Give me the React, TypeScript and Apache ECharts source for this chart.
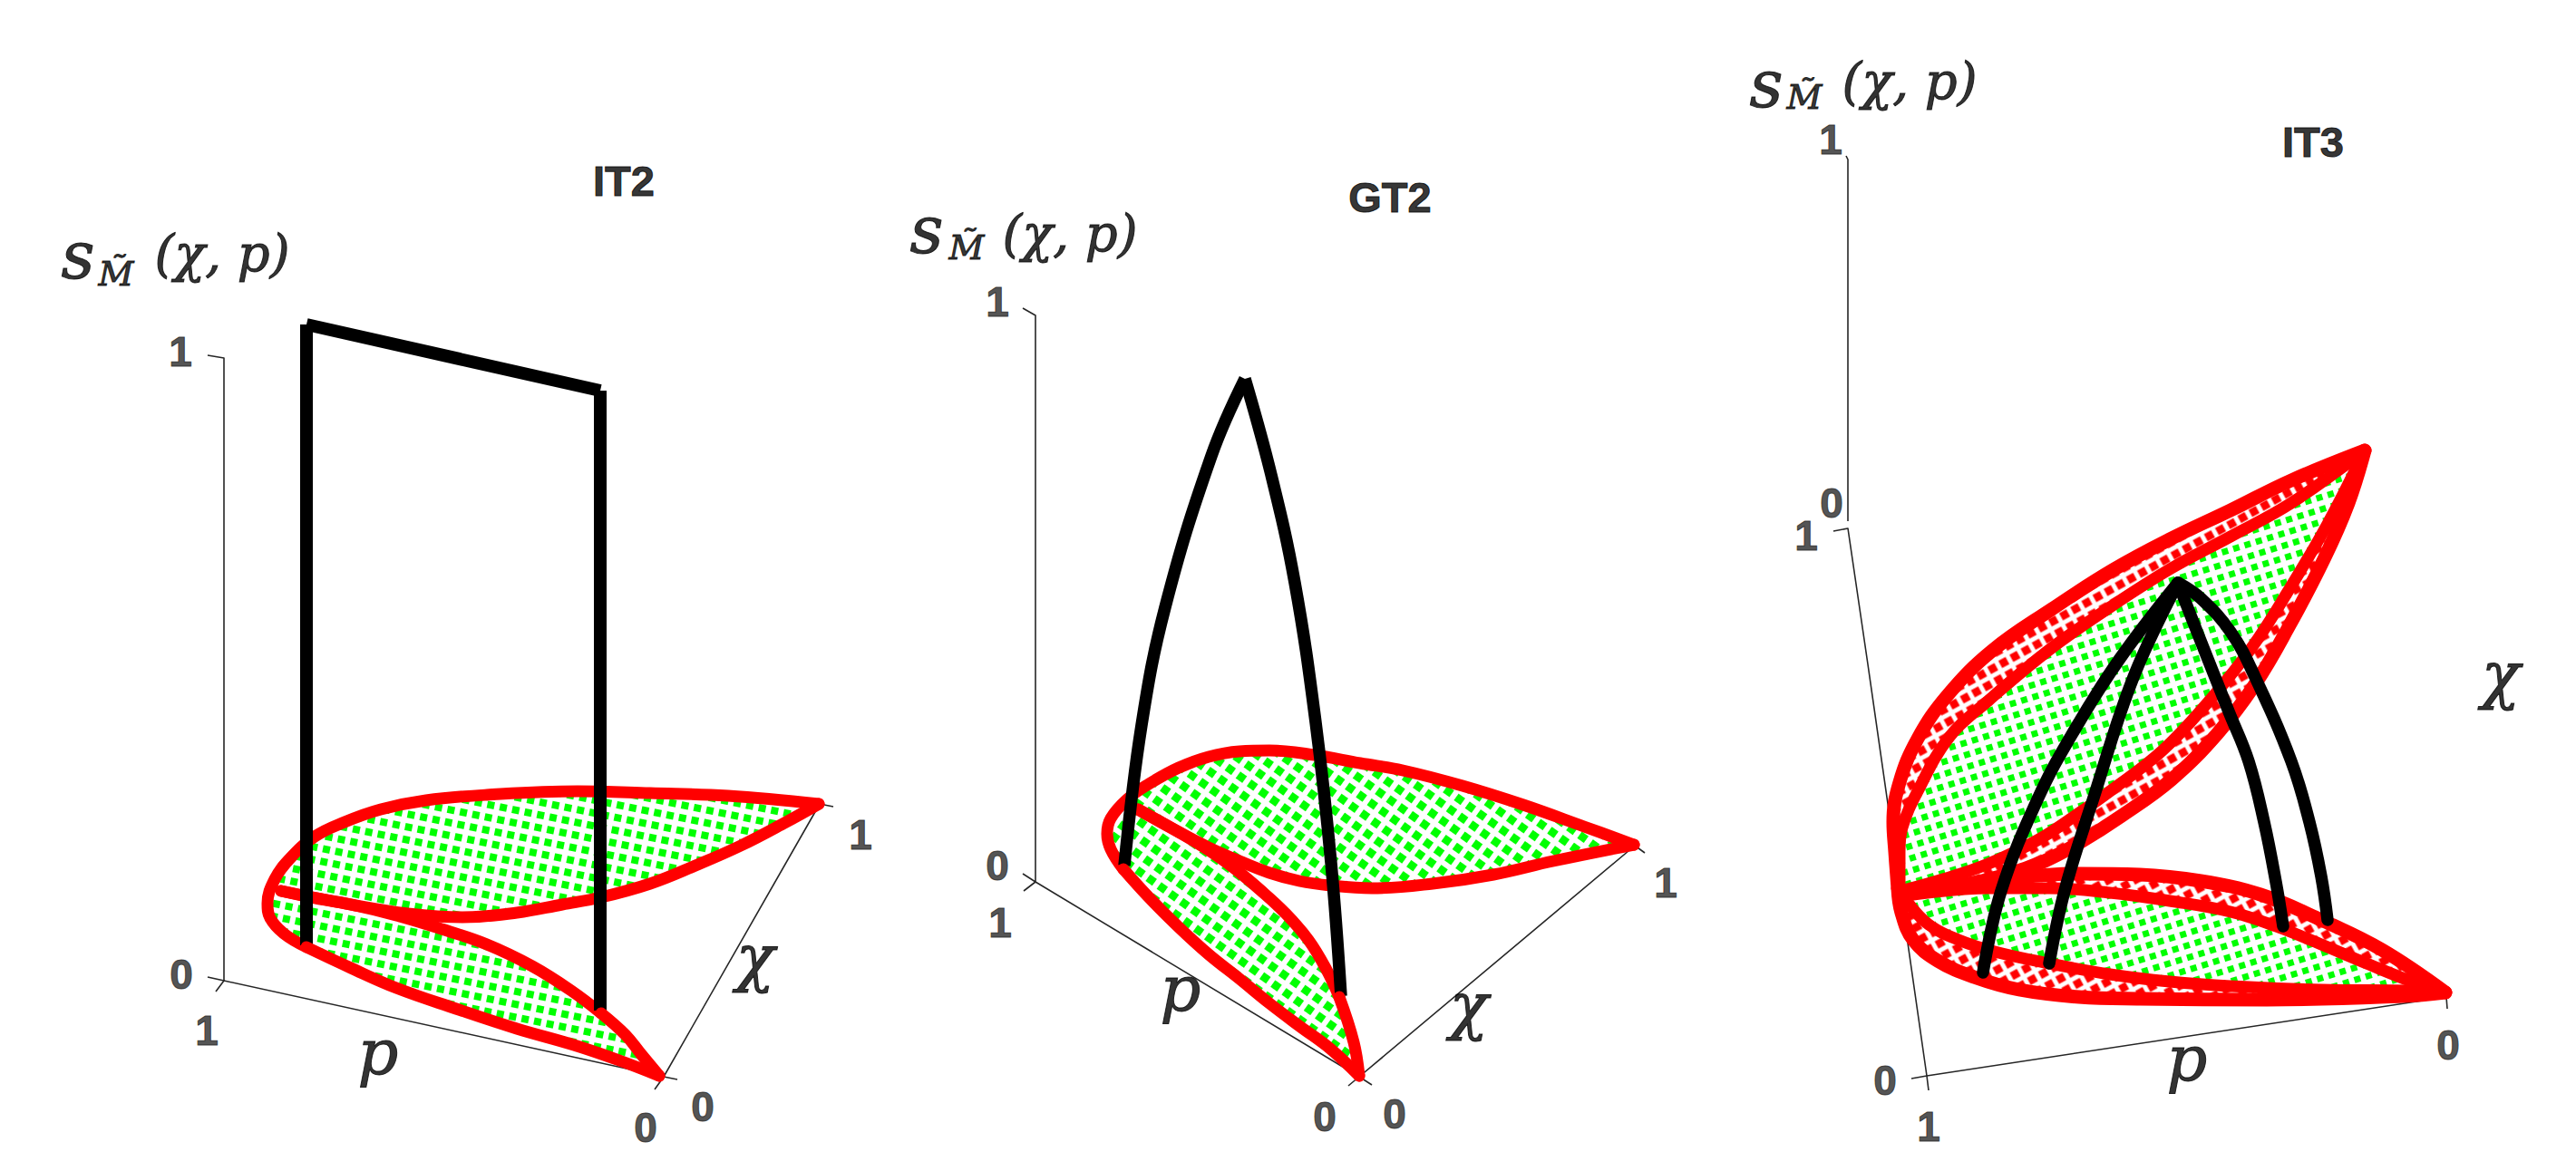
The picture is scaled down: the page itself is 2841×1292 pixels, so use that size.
import React, { useEffect, useRef } from "react";
import * as echarts from "echarts";

type Pt = number[];

// ---- IT2 panel
const it2TopEdge: Pt[] = [[903,887],[803,878],[717,875],[637,873],[537,877],[470,883],[420,893],[380,907],[347,923],[320,947],[303,970],[295,997],[298,1013],[313,1030],[338,1045]];
const it2OuterFoot: Pt[] = [[338,1045],[387,1068],[437,1090],[503,1113],[570,1135],[633,1153],[683,1170],[727,1187]];
const it2InnerFoot: Pt[] = [[663,1118],[690,1142],[707,1163],[727,1187]];
const it2InnerEdge: Pt[] = [[663,1118],[630,1093],[587,1066],[537,1042],[487,1025],[437,1010],[387,998],[343,990],[310,983]];
const it2BottomEdge: Pt[] = [[310,983],[387,998],[450,1008],[510,1012],[570,1007],[620,998],[663,990],[717,975],[767,955],[817,933],[867,907],[903,887]];
const it2Frame: Pt[] = [[338,1043],[338,358]];
const it2FrameTop: Pt[] = [[338,358],[662,431]];
const it2FrameRight: Pt[] = [[662,431],[662,1115]];
const it2AxisS: Pt[] = [[229,392],[247,395],[247,1082],[229,1078]];
const it2AxisP: Pt[] = [[238,1094],[247,1082],[732,1188],[747,1191]];
const it2AxisChi: Pt[] = [[722,1202],[732,1188],[904,887],[919,890]];
const it2Ticks: (number | string)[][] = [[199,388,"1"],[200,1075,"0"],[228,1137,"1"],[712,1244,"0"],[775,1221,"0"],[949,921,"1"]];

// ---- GT2 panel
const gt2TopEdge: Pt[] = [[1802,932],[1747,912],[1680,888],[1613,867],[1547,850],[1500,842],[1450,833],[1400,828],[1367,829],[1333,835],[1300,847],[1267,865],[1243,882],[1225,903],[1221,920],[1225,937],[1239,959]];
const gt2OuterFoot: Pt[] = [[1239,959],[1267,990],[1300,1023],[1333,1053],[1367,1080],[1400,1107],[1433,1132],[1467,1157],[1499,1187]];
const gt2InnerFoot: Pt[] = [[1477,1100],[1493,1150],[1499,1187]];
const gt2InnerEdge: Pt[] = [[1477,1100],[1463,1070],[1443,1037],[1417,1007],[1390,982],[1360,957],[1333,938],[1300,918],[1255,893]];
const gt2BottomEdge: Pt[] = [[1255,893],[1300,918],[1333,935],[1367,950],[1400,963],[1433,972],[1467,977],[1513,980],[1580,975],[1647,965],[1713,950],[1802,932]];
const gt2ArcLeft: Pt[] = [[1240,955],[1259,800],[1285,670],[1336,503],[1373,418]];
const gt2ArcRight: Pt[] = [[1373,418],[1402,524],[1428,643],[1451,797],[1468,952],[1479,1099]];
const gt2AxisS: Pt[] = [[1128,340],[1142,348],[1142,973],[1128,964]];
const gt2AxisP: Pt[] = [[1129,983],[1142,973],[1499,1188],[1513,1197]];
const gt2AxisChi: Pt[] = [[1487,1198],[1499,1188],[1803,933],[1814,941]];
const gt2Ticks: (number | string)[][] = [[1100,333,"1"],[1100,955,"0"],[1103,1018,"1"],[1461,1232,"0"],[1538,1229,"0"],[1837,974,"1"]];

// ---- IT3 panel
const it3OuterUpper: Pt[] = [[2608,497],[2527,530],[2460,563],[2393,595],[2330,629],[2263,672],[2197,718],[2148,767],[2115,815],[2095,863],[2088,907],[2090,940],[2093,980]];
const it3OuterLower: Pt[] = [[2093,980],[2097,1007],[2110,1037],[2137,1060],[2177,1078],[2227,1092],[2293,1100],[2360,1102],[2500,1103],[2650,1099],[2697,1095]];
const it3UpperBackEdge: Pt[] = [[2608,497],[2590,555],[2563,617],[2525,690],[2487,755],[2445,810],[2395,860],[2340,900],[2293,930],[2255,950],[2210,966],[2160,977],[2100,983]];
const it3LowerBackEdge: Pt[] = [[2100,985],[2160,978],[2227,968],[2293,964],[2360,965],[2427,972],[2493,987],[2560,1015],[2627,1048],[2697,1095]];
const it3UpperInnerTop: Pt[] = [[2608,497],[2527,555],[2460,592],[2393,628],[2327,670],[2260,717],[2193,773],[2150,813],[2115,873],[2098,913],[2095,940],[2095,980]];
const it3UpperInnerLower: Pt[] = [[2608,497],[2567,578],[2523,653],[2483,715],[2435,775],[2385,828],[2327,873],[2293,897],[2247,927],[2193,953],[2143,970],[2100,982]];
const it3LowerInnerTop: Pt[] = [[2103,988],[2193,980],[2260,980],[2327,985],[2393,994],[2460,1006],[2510,1022],[2560,1042],[2610,1063],[2660,1083],[2697,1095]];
const it3LowerInnerBottom: Pt[] = [[2105,997],[2127,1020],[2160,1037],[2200,1050],[2260,1063],[2327,1075],[2393,1083],[2460,1088],[2560,1092],[2660,1093],[2697,1095]];
const it3ArcA: Pt[] = [[2187,1073],[2207,983],[2248,880],[2287,807],[2337,728],[2402,643]];
const it3ArcB: Pt[] = [[2260,1063],[2277,983],[2309,880],[2353,747],[2402,643]];
const it3ArcC: Pt[] = [[2402,643],[2427,707],[2458,785],[2480,840],[2497,907],[2510,973],[2518,1022]];
const it3ArcD: Pt[] = [[2402,643],[2427,660],[2460,697],[2487,747],[2527,840],[2547,907],[2560,967],[2567,1015]];
const it3AxisS: Pt[] = [[2036,172],[2038,176],[2038,575]];
const it3AxisDepth: Pt[] = [[2022,586],[2038,583],[2060,733],[2125,1187],[2127,1203]];
const it3AxisP: Pt[] = [[2108,1190],[2125,1187],[2698,1100],[2699,1113]];
const it3Ticks: (number | string)[][] = [[2019,154,"1"],[2020,555,"0"],[1992,591,"1"],[2079,1192,"0"],[2127,1243,"1"],[2700,1153,"0"]];

// ---- texts
const titles: (number | string)[][] = [[688,199,"IT2"],[1533,217,"GT2"],[2551,156,"IT3"]];
const mathS: (number | string)[][] = [[86,282,"s"],[1022,254,"s"],[1948,93,"s"]];
const mathArgs: (number | string)[][] = [[245,279,"(χ, p)"],[1180,257,"(χ, p)"],[2106,89,"(χ, p)"]];
const axisLetters: (number | string)[][] = [[417,1161,"p"],[833,1057,"χ"],[1302,1091,"p"],[1620,1110,"χ"],[2412,1168,"p"],[2758,745,"χ"]];
const mathSub: (number | string)[][] = [[128,302,"M̃"],[1066,273,"M̃"],[1990,107,"M̃"]];

const RED = "#ff0000";
const GREEN = "#00ff00";
const BLACK = "#000000";
const AXIS = "#262626";
const SANS = "'Liberation Sans', Arial, sans-serif";
const SERIF = "'DejaVu Serif', serif";

function pattern(color: string, cell: number, dot: number, rotation: number) {
  const c = document.createElement("canvas");
  c.width = cell;
  c.height = cell;
  const g = c.getContext("2d")!;
  g.fillStyle = color;
  g.fillRect((cell - dot) / 2, (cell - dot) / 2, dot, dot);
  return { image: c, repeat: "repeat", rotation, imageWidth: cell, imageHeight: cell } as any;
}

function fillSeries(ring: Pt[], fill: any, z: number) {
  return {
    type: "custom",
    coordinateSystem: "cartesian2d",
    silent: true,
    clip: false,
    z,
    data: [ring[0]],
    encode: { x: 0, y: 1 },
    renderItem: (_: any, api: any) => {
      const points = ring.map((p) => api.coord(p));
      return {
        type: "group",
        children: [
          { type: "polygon", shape: { points }, style: { fill: "#ffffff" } },
          { type: "polygon", shape: { points }, style: { fill } },
        ],
      };
    },
  };
}

function curve(data: Pt[], color: string, width: number, z: number, smooth: number | boolean = 0.4, cap = "round") {
  return {
    type: "line",
    data,
    z,
    silent: true,
    clip: false,
    smooth,
    symbol: "none",
    lineStyle: { color, width, cap, join: "round" },
  };
}

function textSeries(data: (number | string)[][], font: any) {
  return {
    type: "scatter",
    data,
    z: 20,
    silent: true,
    clip: false,
    symbolSize: 1,
    itemStyle: { color: "rgba(0,0,0,0)" },
    label: {
      show: true,
      position: "inside",
      formatter: (p: any) => p.value[2],
      textBorderColor: font.color,
      textBorderWidth: 1,
      ...font,
    },
    encode: { x: 0, y: 1 },
  };
}

export default function App() {
  const ref = useRef<HTMLDivElement>(null);
  useEffect(() => {
    const chart = echarts.init(ref.current!, undefined, { renderer: "svg" });
    const rev = (a: Pt[]) => [...a].reverse();
    const p1 = () => pattern(GREEN, 14, 8, 0.2);
    const p2 = () => pattern(GREEN, 15, 9, 0.62);
    const p3 = () => pattern(GREEN, 13, 7, -0.3);
    const p3r = () => pattern(RED, 14, 9, -0.5);

    const thin = (d: Pt[]) => curve(d, AXIS, 1.6, 1, false, "butt");
    const tick = { fontFamily: SANS, fontWeight: "bold", fontSize: 46, color: AXIS };
    const series: any[] = [
      thin(it2AxisS), thin(it2AxisP), thin(it2AxisChi),
      thin(gt2AxisS), thin(gt2AxisP), thin(gt2AxisChi),
      thin(it3AxisS), thin(it3AxisDepth), thin(it3AxisP),

      fillSeries([...it2TopEdge.slice(0, 11), ...it2BottomEdge], p1(), 2),
      fillSeries([...it2InnerEdge, ...it2TopEdge.slice(11), ...it2OuterFoot, ...rev(it2InnerFoot)], p1(), 2),
      fillSeries([...gt2TopEdge.slice(0, 13), ...gt2BottomEdge], p2(), 2),
      fillSeries([...gt2InnerEdge, ...gt2TopEdge.slice(13), ...gt2OuterFoot, ...rev(gt2InnerFoot)], p2(), 2),

      fillSeries([...it3OuterUpper, ...rev(it3UpperBackEdge)], p3r(), 2),
      fillSeries([...it3OuterLower, ...rev(it3LowerBackEdge)], p3r(), 2),
      fillSeries([...it3UpperInnerTop, ...rev(it3UpperInnerLower)], p3(), 3),
      fillSeries([...it3LowerInnerTop, ...rev(it3LowerInnerBottom)], p3(), 3),

      curve(it2TopEdge, RED, 13, 4),
      curve(it2InnerEdge, RED, 13, 4),
      curve(it2BottomEdge, RED, 13, 4),
      curve(gt2TopEdge, RED, 13, 4),
      curve(gt2InnerEdge, RED, 13, 4),
      curve(gt2BottomEdge, RED, 13, 4),

      curve(it3OuterUpper, RED, 15, 4),
      curve(it3OuterLower, RED, 15, 4),
      curve(it3UpperBackEdge, RED, 15, 4),
      curve(it3LowerBackEdge, RED, 15, 4),
      curve(it3UpperInnerTop, RED, 13, 4),
      curve(it3UpperInnerLower, RED, 13, 4),
      curve(it3LowerInnerTop, RED, 13, 4),
      curve(it3LowerInnerBottom, RED, 13, 4),

      curve(it2Frame, BLACK, 14, 5, false, "butt"),
      curve(it2FrameTop, BLACK, 14, 5, false, "butt"),
      curve(it2FrameRight, BLACK, 14, 5, false, "butt"),
      curve(gt2ArcLeft, BLACK, 13.5, 5, 0.4, "butt"),
      curve(gt2ArcRight, BLACK, 13.5, 5, 0.4, "butt"),
      curve(it3ArcA, BLACK, 13.5, 5),
      curve(it3ArcB, BLACK, 13.5, 5),
      curve(it3ArcC, BLACK, 13.5, 5),
      curve(it3ArcD, BLACK, 13.5, 5),

      curve(it2OuterFoot, RED, 13, 6),
      curve(it2InnerFoot, RED, 13, 6),
      curve(gt2OuterFoot, RED, 13, 6),
      curve(gt2InnerFoot, RED, 13, 6),

      textSeries(it2Ticks, tick),
      textSeries(gt2Ticks, tick),
      textSeries(it3Ticks, tick),
      textSeries(titles, { fontFamily: SANS, fontWeight: "bold", fontSize: 47, color: BLACK }),
      textSeries(mathS, { fontFamily: SERIF, fontStyle: "italic", fontSize: 72, color: BLACK }),
      textSeries(mathArgs, { fontFamily: SERIF, fontStyle: "italic", fontSize: 56, color: BLACK }),
      textSeries(axisLetters, { fontFamily: SERIF, fontStyle: "italic", fontSize: 70, color: BLACK }),
      textSeries(mathSub, { fontFamily: SERIF, fontStyle: "italic", fontSize: 38, color: BLACK }),
    ];

    chart.setOption({
      animation: false,
      backgroundColor: "#ffffff",
      grid: { left: 0, right: 0, top: 0, bottom: 0 },
      xAxis: { type: "value", min: 0, max: 2841, show: false },
      yAxis: { type: "value", min: 0, max: 1292, inverse: true, show: false },
      series,
    });
    return () => chart.dispose();
  }, []);
  return <div ref={ref} style={{ position: "fixed", left: 0, top: 0, width: 2841, height: 1292 }} />;
}
